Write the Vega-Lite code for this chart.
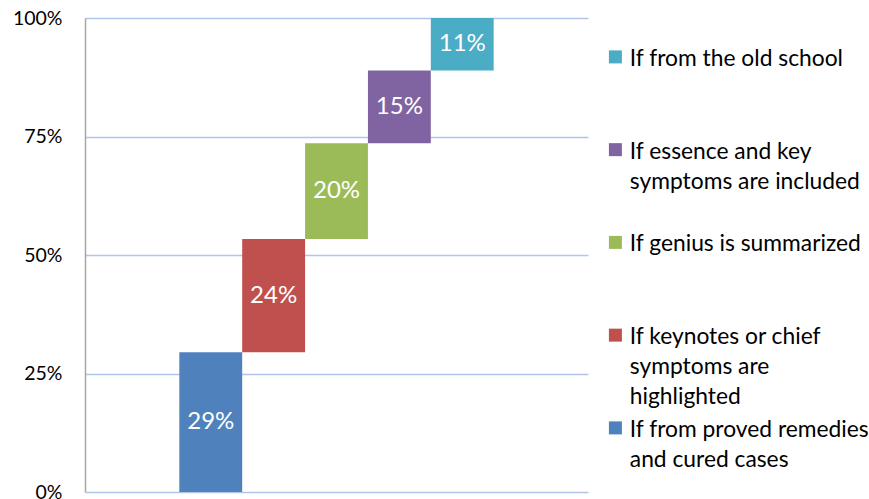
{
  "$schema": "https://vega.github.io/schema/vega-lite/v6.json",
  "width": 503,
  "height": 474,
  "autosize": "none",
  "padding": {"left": 85, "top": 18, "right": 281, "bottom": 7},
  "background": "white",
  "config": {"view": {"stroke": null}, "font": "Lato"},
  "data": {
    "values": [
      {"category": "If from proved remedies and cured cases", "start": 0, "end": 29.5, "label": "29%"},
      {"category": "If keynotes or chief symptoms are highlighted", "start": 29.5, "end": 53.4, "label": "24%"},
      {"category": "If genius is summarized", "start": 53.4, "end": 73.6, "label": "20%"},
      {"category": "If essence and key symptoms are included", "start": 73.6, "end": 88.9, "label": "15%"},
      {"category": "If from the old school", "start": 88.9, "end": 100, "label": "11%"}
    ]
  },
  "encoding": {
    "x": {
      "field": "category",
      "type": "nominal",
      "axis": null,
      "scale": {
        "domain": [
          "(left gap)",
          "If from proved remedies and cured cases",
          "If keynotes or chief symptoms are highlighted",
          "If genius is summarized",
          "If essence and key symptoms are included",
          "If from the old school",
          "(right gap)"
        ],
        "paddingInner": 0,
        "paddingOuter": 0.5
      }
    }
  },
  "layer": [
    {
      "mark": {"type": "bar"},
      "encoding": {
        "y": {
          "field": "start",
          "type": "quantitative",
          "scale": {"domain": [0, 100], "nice": false},
          "axis": {
            "values": [0, 25, 50, 75, 100],
            "labelExpr": "datum.value + '%'",
            "title": null,
            "ticks": false,
            "domainColor": "#A6A6A6",
            "domainWidth": 1.5,
            "labelPadding": 23,
            "labelFontSize": 19.5,
            "labelColor": "#000000",
            "labelFont": "Lato",
            "gridColor": "#AFC6EA",
            "gridWidth": 1.5
          }
        },
        "y2": {"field": "end"},
        "color": {
          "field": "category",
          "type": "nominal",
          "scale": {
            "domain": [
              "If from the old school",
              "If essence and key symptoms are included",
              "If genius is summarized",
              "If keynotes or chief symptoms are highlighted",
              "If from proved remedies and cured cases"
            ],
            "range": ["#4BACC6", "#8064A2", "#9BBB59", "#C0504D", "#4F81BD"]
          },
          "legend": {
            "orient": "none",
            "legendX": 519,
            "legendY": 27.5,
            "title": null,
            "symbolType": "square",
            "symbolSize": 169,
            "symbolStrokeWidth": 0,
            "labelFontSize": 22.8,
            "labelFont": "Lato",
            "labelColor": "#000000",
            "labelOffset": 3,
            "labelLimit": 400,
            "labelBaseline": "top",
            "gridAlign": "all",
            "rowPadding": 6.75,
            "labelExpr": "datum.label == 'If essence and key symptoms are included' ? ['If essence and key', 'symptoms are included'] : datum.label == 'If keynotes or chief symptoms are highlighted' ? ['If keynotes or chief', 'symptoms are', 'highlighted'] : datum.label == 'If from proved remedies and cured cases' ? ['If from proved remedies', 'and cured cases'] : datum.label",
            "encode": {
              "labels": {"update": {"lineHeight": {"value": 30}, "dy": {"value": -9}}}
            }
          }
        }
      }
    },
    {
      "transform": [
        {"fold": ["start", "end"], "as": ["edge", "level"]},
        {"aggregate": [{"op": "mean", "field": "level", "as": "mid"}], "groupby": ["category", "label"]}
      ],
      "mark": {"type": "text", "color": "white", "fontSize": 24, "font": "Lato", "baseline": "middle", "align": "center"},
      "encoding": {
        "y": {"field": "mid", "type": "quantitative"},
        "text": {"field": "label"}
      }
    }
  ]
}
